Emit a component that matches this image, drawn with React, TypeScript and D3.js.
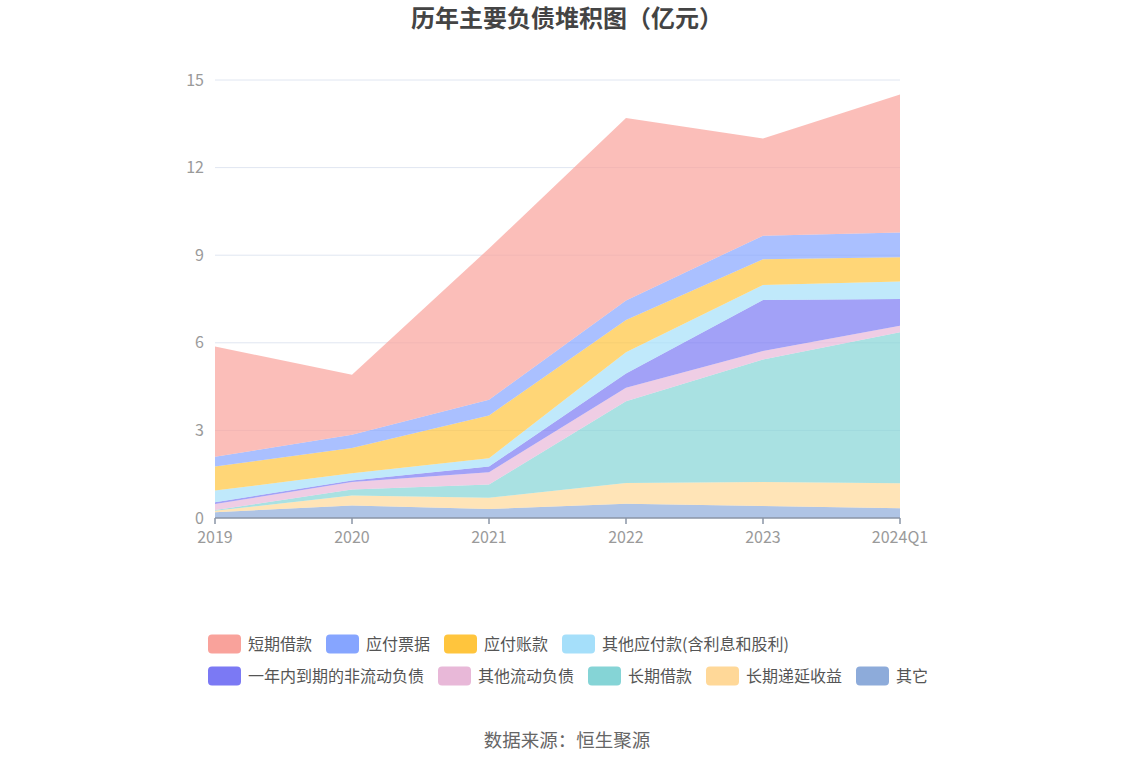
import React from 'react';
import * as d3 from 'd3';

const categories = ['2019', '2020', '2021', '2022', '2023', '2024Q1'];
const shortLoan = [3.77, 2.06, 5.18, 6.25, 3.33, 4.72];
const notesPayable = [0.34, 0.45, 0.54, 0.67, 0.81, 0.85];
const accountsPayable = [0.82, 0.87, 1.46, 1.1, 0.88, 0.83];
const otherPayable = [0.4, 0.25, 0.29, 0.73, 0.51, 0.6];
const currentNonCurrent = [0.06, 0.05, 0.19, 0.49, 1.75, 0.92];
const otherCurrent = [0.21, 0.25, 0.42, 0.46, 0.29, 0.22];
const longLoan = [0.02, 0.21, 0.46, 2.8, 4.2, 5.17];
const deferredIncome = [0.05, 0.34, 0.38, 0.71, 0.82, 0.86];
const others = [0.2, 0.43, 0.31, 0.49, 0.41, 0.33];
const yTicks = [0, 3, 6, 9, 12, 15];

const seriesNames = ['短期借款', '应付票据', '应付账款', '其他应付款(含利息和股利)', '一年内到期的非流动负债', '其他流动负债', '长期借款', '长期递延收益', '其它'];
const seriesValues = [shortLoan, notesPayable, accountsPayable, otherPayable, currentNonCurrent, otherCurrent, longLoan, deferredIncome, others];
const colors = ['#f9a29b', '#86a5ff', '#ffc53d', '#a5dffa', '#7b79f4', '#e8b8d8', '#85d4d6', '#ffd898', '#8dabda'];

const W = 1134, H = 766;
const left = 215, right = 900, top = 80, bottom = 518;

function textWidth(s: string, fs: number) {
  let w = 0;
  for (const ch of s) {
    if (ch.charCodeAt(0) > 255) w += fs;
    else if (ch === '(' || ch === ')') w += fs * 0.36;
    else w += fs * 0.55;
  }
  return w;
}

export default function App() {
  const x = d3.scalePoint<string>().domain(categories).range([left, right]);
  const y = d3.scaleLinear().domain([0, 15]).range([bottom, top]);

  const order = seriesNames.map((_, i) => i).reverse();
  const rows = categories.map((c, ci) => {
    const r: any = { cat: c };
    seriesNames.forEach((n, si) => (r[n] = seriesValues[si][ci]));
    return r;
  });
  const stack = d3.stack<any>().keys(order.map((i) => seriesNames[i]));
  const layers = stack(rows);
  const area = d3
    .area<any>()
    .x((d) => x(d.data.cat) as number)
    .y0((d) => y(d[0]))
    .y1((d) => y(d[1]));

  const legendRows = [
    [0, 1, 2, 3],
    [4, 5, 6, 7, 8],
  ];
  const legendFs = 16;

  return (
    <svg width={W} height={H} style={{ position: 'absolute', left: 0, top: 0, fontFamily: '"Noto Sans CJK SC", "Noto Sans", sans-serif' }}>
      <rect width={W} height={H} fill="#fff" />
      <text x={W / 2} y={27} textAnchor="middle" fontSize={24} fontWeight="bold" fill="#444">
        历年主要负债堆积图（亿元）
      </text>
      {yTicks.map((t) => (
        <g key={t}>
          {t > 0 && <line x1={left} x2={right} y1={y(t)} y2={y(t)} stroke="#e0e6f1" strokeWidth={1} />}
          <text x={204} y={y(t)} dy="0.35em" textAnchor="end" fontSize={16} fill="#9a9a9a">
            {t}
          </text>
        </g>
      ))}
      {layers.map((layer) => {
        const idx = seriesNames.indexOf(layer.key);
        return <path key={layer.key} d={area(layer) || ''} fill={colors[idx]} fillOpacity={0.7} stroke="none" />;
      })}
      <line x1={left} x2={right} y1={bottom} y2={bottom} stroke="#8a94a6" strokeWidth={1.5} />
      {categories.map((c) => (
        <g key={c}>
          <line x1={x(c)} x2={x(c)} y1={bottom} y2={bottom + 6} stroke="#8a94a6" strokeWidth={1.5} />
          <text x={x(c)} y={537} dy="0.35em" textAnchor="middle" fontSize={16} fill="#9a9a9a">
            {c}
          </text>
        </g>
      ))}
      {legendRows.map((row, ri) => {
        let cx = 208;
        const cy = 644 + ri * 32;
        return row.map((si) => {
          const gx = cx;
          const tw = textWidth(seriesNames[si], legendFs);
          cx = gx + 40 + tw + 14;
          return (
            <g key={si}>
              <rect x={gx} y={cy - 9.5} width={33} height={19} rx={4} fill={colors[si]} />
              <text x={gx + 40} y={cy} dy="0.35em" fontSize={legendFs} fill="#555">
                {seriesNames[si]}
              </text>
            </g>
          );
        });
      })}
      <text x={W / 2} y={741} dy="0.35em" textAnchor="middle" fontSize={18.5} fill="#666">
        数据来源：恒生聚源
      </text>
    </svg>
  );
}
